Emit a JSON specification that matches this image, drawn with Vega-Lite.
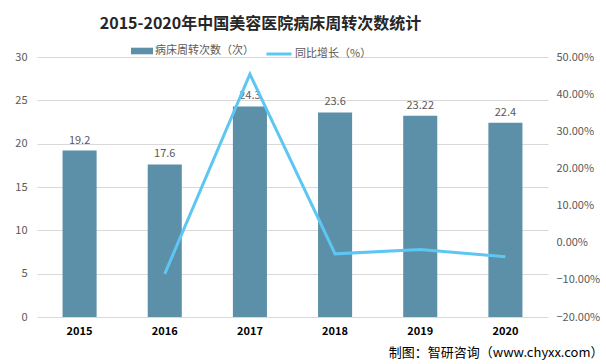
{
  "$schema": "https://vega.github.io/schema/vega-lite/v6.json",
  "width": 511,
  "height": 260,
  "autosize": {"type": "none"},
  "padding": {"left": 37, "top": 57, "right": 58, "bottom": 47},
  "background": "white",
  "title": {
    "text": "2015-2020年中国美容医院病床周转次数统计",
    "font": "Noto Sans CJK SC",
    "fontSize": 16,
    "fontWeight": "bold",
    "color": "#262626",
    "anchor": "middle",
    "dx": -32,
    "offset": 8
  },
  "config": {
    "view": {"stroke": null},
    "font": "Noto Sans CJK SC"
  },
  "data": {
    "values": [
      {"year": "2015", "turnover": 19.2, "growth": null},
      {"year": "2016", "turnover": 17.6, "growth": -0.084},
      {"year": "2017", "turnover": 24.3, "growth": 0.454},
      {"year": "2018", "turnover": 23.6, "growth": -0.030},
      {"year": "2019", "turnover": 23.22, "growth": -0.018},
      {"year": "2020", "turnover": 22.4, "growth": -0.038}
    ]
  },
  "encoding": {
    "x": {
      "field": "year",
      "type": "ordinal",
      "scale": {"paddingInner": 0.6, "paddingOuter": 0.3},
      "axis": {
        "labelAngle": 0,
        "labelFontWeight": "bold",
        "labelFontSize": 11,
        "labelColor": "#000000",
        "labelPadding": 8,
        "ticks": false,
        "domain": false,
        "title": "制图：智研咨询（www.chyxx.com）",
        "titleFontSize": 13,
        "titleFontWeight": "normal",
        "titleColor": "#000000",
        "titleAnchor": "end",
        "titleAlign": "right",
        "titleBaseline": "middle",
        "titleX": 566,
        "titleY": 35
      }
    }
  },
  "layer": [
    {
      "encoding": {
        "y": {
          "field": "turnover",
          "type": "quantitative",
          "scale": {"domain": [0, 30], "nice": false},
          "axis": {
            "values": [0, 5, 10, 15, 20, 25, 30],
            "title": null,
            "ticks": false,
            "domain": false,
            "labelColor": "#595959",
            "labelFontSize": 11,
            "labelPadding": 10,
            "gridColor": "#d9d9d9",
            "grid": true
          }
        }
      },
      "layer": [
        {
          "mark": {"type": "bar", "color": "#5b90a8"},
          "encoding": {
            "fill": {
              "datum": "病床周转次数（次）",
              "type": "nominal",
              "scale": {"range": ["#5b90a8"]},
              "legend": {
                "orient": "none",
                "legendX": 94,
                "legendY": -17,
                "title": null,
                "symbolType": "M-1,-0.3H1V0.3H-1Z",
                "symbolSize": 484,
                "symbolStrokeWidth": 0,
                "labelFontSize": 11,
                "labelColor": "#595959",
                "labelOffset": 2
              }
            }
          }
        },
        {
          "mark": {"type": "text", "baseline": "bottom", "dy": -5, "fontSize": 11, "color": "#595959"},
          "encoding": {
            "text": {"field": "turnover", "type": "nominal"}
          }
        }
      ]
    },
    {
      "mark": {"type": "line", "strokeWidth": 3, "color": "#5ec6f2"},
      "encoding": {
        "y": {
          "field": "growth",
          "type": "quantitative",
          "scale": {"domain": [-0.2, 0.5], "nice": false},
          "axis": {
            "orient": "right",
            "values": [-0.2, -0.1, 0, 0.1, 0.2, 0.3, 0.4, 0.5],
            "format": ".2%",
            "title": null,
            "ticks": false,
            "domain": false,
            "grid": false,
            "labelColor": "#595959",
            "labelFontSize": 11,
            "labelPadding": 8
          }
        },
        "stroke": {
          "datum": "同比增长（%）",
          "type": "nominal",
          "scale": {"range": ["#5ec6f2"]},
          "legend": {
            "orient": "none",
            "legendX": 228,
            "legendY": -17,
            "title": null,
            "symbolType": "stroke",
            "symbolSize": 625,
            "symbolStrokeWidth": 3,
            "labelFontSize": 11,
            "labelColor": "#595959",
            "labelOffset": 2
          }
        }
      }
    }
  ],
  "resolve": {"scale": {"y": "independent", "fill": "independent", "stroke": "independent"}}
}
